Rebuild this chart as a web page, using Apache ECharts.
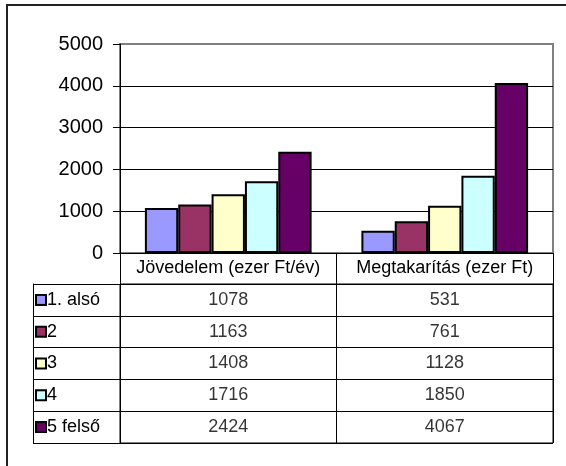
<!DOCTYPE html>
<html><head><meta charset="utf-8">
<script src="https://cdn.jsdelivr.net/npm/echarts@6/dist/echarts.min.js"></script>
<style>html,body{margin:0;padding:0;background:#fff}#c{width:566px;height:466px}</style>
</head><body><div id="c"></div>
<script>
const categories = ['Jövedelem (ezer Ft/év)', 'Megtakarítás (ezer Ft)'];
const seriesNames = ['1. alsó', '2', '3', '4', '5 felső'];
const s1 = [1078, 531];
const s2 = [1163, 761];
const s3 = [1408, 1128];
const s4 = [1716, 1850];
const s5 = [2424, 4067];
const seriesValues = [s1, s2, s3, s4, s5];
const colors = ['#9999FF', '#993366', '#FFFFCC', '#CCFFFF', '#660066'];
const yMin = 0, yMax = 5000, yStep = 1000;

const FONT = '"Liberation Sans", Arial, sans-serif';
const chart = echarts.init(document.getElementById('c'), null, {renderer: 'canvas'});

const rich = { t: {fontSize: 18, color: '#000', fontFamily: FONT, padding: [0, 0, 0, 2]} };
colors.forEach((c, i) => {
  rich['b' + i] = {width: 8, height: 8, backgroundColor: c, borderColor: '#000', borderWidth: 2};
});

const cells = [];
seriesValues.forEach((vals, i) => {
  vals.forEach((v, j) => cells.push([categories[j], seriesNames[i], v]));
});

const splitColors = [];
for (let v = yMin; v <= yMax; v += yStep) splitColors.push(v === yMax ? '#808080' : '#000');

const barSeries = seriesNames.map((name, i) => ({
  name: name,
  type: 'bar',
  xAxisIndex: 0, yAxisIndex: 0,
  data: seriesValues[i],
  barGap: '0%',
  barCategoryGap: '23%',
  itemStyle: {color: colors[i], borderColor: '#000', borderWidth: 2},
  silent: true
}));

chart.setOption({
  animation: false,
  backgroundColor: '#fff',
  textStyle: {fontFamily: FONT, color: '#000'},
  grid: [
    {left: 120, right: 13, top: 44, height: 209, show: true, borderColor: '#808080', borderWidth: 2, backgroundColor: 'transparent'},
    {left: 120, right: 13, top: 284, height: 159, show: true, borderColor: '#000', borderWidth: 1, backgroundColor: 'transparent'}
  ],
  xAxis: [
    {
      type: 'category', gridIndex: 0, data: categories,
      axisLine: {show: true, lineStyle: {color: '#000', width: 1}},
      axisTick: {show: true, length: 31, alignWithLabel: false, lineStyle: {color: '#000', width: 1}},
      axisLabel: {interval: 0, fontSize: 18, color: '#000', fontFamily: FONT, margin: 6},
      splitLine: {show: false}
    },
    {
      type: 'category', gridIndex: 1, data: categories,
      axisLine: {show: false}, axisTick: {show: false}, axisLabel: {show: false},
      splitLine: {show: true, interval: 0, lineStyle: {color: '#000', width: 1}}
    }
  ],
  yAxis: [
    {
      type: 'value', gridIndex: 0, min: yMin, max: yMax, interval: yStep,
      axisLine: {show: true, lineStyle: {color: '#000', width: 1}},
      axisTick: {show: true, length: 7, lineStyle: {color: '#000', width: 1}},
      axisLabel: {fontSize: 20, color: '#000', fontFamily: FONT, margin: 17, formatter: v => String(v)},
      splitLine: {show: true, lineStyle: {color: splitColors, width: 1}}
    },
    {
      type: 'category', gridIndex: 1, data: seriesNames, inverse: true, offset: 87,
      axisLine: {show: true, lineStyle: {color: '#000', width: 1}},
      axisTick: {show: true, inside: true, length: 87, interval: 0, alignWithLabel: false, lineStyle: {color: '#000', width: 1}},
      axisLabel: {interval: 0, inside: true, margin: 4, align: 'left', formatter: (v, idx) => '{b' + idx + '|}{t|' + v + '}', rich: rich},
      splitLine: {show: true, interval: 0, lineStyle: {color: '#000', width: 1}}
    }
  ],
  series: barSeries.concat([{
    type: 'scatter', xAxisIndex: 1, yAxisIndex: 1, data: cells,
    symbol: 'rect', symbolSize: 2, itemStyle: {color: 'rgba(0,0,0,0)'}, silent: true,
    label: {show: true, position: 'inside', formatter: p => String(p.value[2]), fontSize: 18, color: '#000', fontFamily: FONT}
  }]),
  graphic: [{
    type: 'rect', shape: {x: 7, y: 5, width: 640, height: 540},
    style: {fill: 'none', stroke: '#222', lineWidth: 2}, silent: true, z: 100
  }]
});
</script>
</body></html>
